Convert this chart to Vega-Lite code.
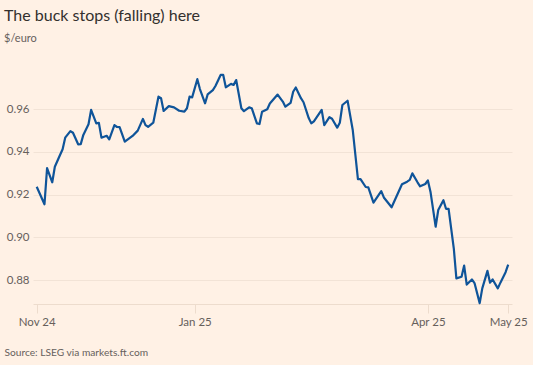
{
  "$schema": "https://vega.github.io/schema/vega-lite/v6.json",
  "autosize": {"type": "none"},
  "padding": {"left": 33, "top": 70, "right": 21, "bottom": 61},
  "width": 479,
  "height": 234,
  "background": "#fff1e5",
  "config": {
    "view": {"stroke": null},
    "font": "Lato",
    "axis": {"labelFont": "Lato", "titleFont": "Lato"}
  },
  "title": {
    "text": "The buck stops (falling) here",
    "subtitle": "$/euro",
    "anchor": "start",
    "frame": "group",
    "dx": -29,
    "offset": 26,
    "font": "Lato",
    "fontSize": 16,
    "fontWeight": "normal",
    "color": "#33302e",
    "subtitleFont": "Lato",
    "subtitleFontSize": 11,
    "subtitleColor": "#66605c",
    "subtitlePadding": 9
  },
  "data": {
    "values": [
      {"date": "2024-11-01", "rate": 0.9237},
      {"date": "2024-11-04", "rate": 0.9155},
      {"date": "2024-11-05", "rate": 0.9324},
      {"date": "2024-11-07", "rate": 0.9258},
      {"date": "2024-11-08", "rate": 0.9331},
      {"date": "2024-11-10", "rate": 0.9386},
      {"date": "2024-11-11", "rate": 0.9413},
      {"date": "2024-11-12", "rate": 0.9467},
      {"date": "2024-11-14", "rate": 0.9498},
      {"date": "2024-11-15", "rate": 0.9490},
      {"date": "2024-11-17", "rate": 0.9436},
      {"date": "2024-11-18", "rate": 0.9437},
      {"date": "2024-11-19", "rate": 0.9480},
      {"date": "2024-11-21", "rate": 0.9530},
      {"date": "2024-11-22", "rate": 0.9597},
      {"date": "2024-11-24", "rate": 0.9534},
      {"date": "2024-11-25", "rate": 0.9536},
      {"date": "2024-11-26", "rate": 0.9467},
      {"date": "2024-11-28", "rate": 0.9476},
      {"date": "2024-11-29", "rate": 0.9459},
      {"date": "2024-12-01", "rate": 0.9526},
      {"date": "2024-12-02", "rate": 0.9517},
      {"date": "2024-12-03", "rate": 0.9516},
      {"date": "2024-12-05", "rate": 0.9448},
      {"date": "2024-12-08", "rate": 0.9475},
      {"date": "2024-12-10", "rate": 0.9500},
      {"date": "2024-12-12", "rate": 0.9555},
      {"date": "2024-12-13", "rate": 0.9526},
      {"date": "2024-12-14", "rate": 0.9518},
      {"date": "2024-12-16", "rate": 0.9537},
      {"date": "2024-12-18", "rate": 0.9659},
      {"date": "2024-12-19", "rate": 0.9652},
      {"date": "2024-12-20", "rate": 0.9592},
      {"date": "2024-12-22", "rate": 0.9615},
      {"date": "2024-12-24", "rate": 0.9609},
      {"date": "2024-12-26", "rate": 0.9593},
      {"date": "2024-12-28", "rate": 0.9589},
      {"date": "2024-12-29", "rate": 0.9605},
      {"date": "2024-12-30", "rate": 0.9659},
      {"date": "2024-12-31", "rate": 0.9656},
      {"date": "2025-01-02", "rate": 0.9741},
      {"date": "2025-01-03", "rate": 0.9695},
      {"date": "2025-01-05", "rate": 0.9628},
      {"date": "2025-01-06", "rate": 0.9670},
      {"date": "2025-01-08", "rate": 0.9690},
      {"date": "2025-01-09", "rate": 0.9709},
      {"date": "2025-01-11", "rate": 0.9761},
      {"date": "2025-01-12", "rate": 0.9761},
      {"date": "2025-01-13", "rate": 0.9703},
      {"date": "2025-01-15", "rate": 0.9719},
      {"date": "2025-01-16", "rate": 0.9714},
      {"date": "2025-01-17", "rate": 0.9737},
      {"date": "2025-01-19", "rate": 0.9605},
      {"date": "2025-01-20", "rate": 0.9591},
      {"date": "2025-01-22", "rate": 0.9609},
      {"date": "2025-01-23", "rate": 0.9605},
      {"date": "2025-01-25", "rate": 0.9534},
      {"date": "2025-01-26", "rate": 0.9531},
      {"date": "2025-01-27", "rate": 0.9589},
      {"date": "2025-01-29", "rate": 0.9600},
      {"date": "2025-01-30", "rate": 0.9627},
      {"date": "2025-02-02", "rate": 0.9669},
      {"date": "2025-02-04", "rate": 0.9636},
      {"date": "2025-02-05", "rate": 0.9612},
      {"date": "2025-02-07", "rate": 0.9630},
      {"date": "2025-02-08", "rate": 0.9682},
      {"date": "2025-02-09", "rate": 0.9702},
      {"date": "2025-02-11", "rate": 0.9652},
      {"date": "2025-02-12", "rate": 0.9633},
      {"date": "2025-02-14", "rate": 0.9559},
      {"date": "2025-02-15", "rate": 0.9534},
      {"date": "2025-02-16", "rate": 0.9543},
      {"date": "2025-02-19", "rate": 0.9597},
      {"date": "2025-02-20", "rate": 0.9526},
      {"date": "2025-02-22", "rate": 0.9563},
      {"date": "2025-02-23", "rate": 0.9556},
      {"date": "2025-02-25", "rate": 0.9514},
      {"date": "2025-02-26", "rate": 0.9537},
      {"date": "2025-02-27", "rate": 0.9620},
      {"date": "2025-03-01", "rate": 0.9640},
      {"date": "2025-03-03", "rate": 0.9503},
      {"date": "2025-03-05", "rate": 0.9273},
      {"date": "2025-03-06", "rate": 0.9273},
      {"date": "2025-03-08", "rate": 0.9236},
      {"date": "2025-03-09", "rate": 0.9234},
      {"date": "2025-03-11", "rate": 0.9163},
      {"date": "2025-03-14", "rate": 0.9217},
      {"date": "2025-03-15", "rate": 0.9187},
      {"date": "2025-03-18", "rate": 0.9141},
      {"date": "2025-03-20", "rate": 0.9195},
      {"date": "2025-03-22", "rate": 0.9249},
      {"date": "2025-03-24", "rate": 0.9261},
      {"date": "2025-03-25", "rate": 0.9269},
      {"date": "2025-03-26", "rate": 0.9300},
      {"date": "2025-03-28", "rate": 0.9258},
      {"date": "2025-03-29", "rate": 0.9239},
      {"date": "2025-03-31", "rate": 0.9250},
      {"date": "2025-04-01", "rate": 0.9267},
      {"date": "2025-04-02", "rate": 0.9214},
      {"date": "2025-04-04", "rate": 0.9050},
      {"date": "2025-04-05", "rate": 0.9128},
      {"date": "2025-04-07", "rate": 0.9174},
      {"date": "2025-04-08", "rate": 0.9134},
      {"date": "2025-04-09", "rate": 0.9134},
      {"date": "2025-04-11", "rate": 0.8949},
      {"date": "2025-04-12", "rate": 0.8808},
      {"date": "2025-04-14", "rate": 0.8816},
      {"date": "2025-04-15", "rate": 0.8868},
      {"date": "2025-04-16", "rate": 0.8779},
      {"date": "2025-04-18", "rate": 0.8803},
      {"date": "2025-04-19", "rate": 0.8786},
      {"date": "2025-04-21", "rate": 0.8692},
      {"date": "2025-04-22", "rate": 0.8761},
      {"date": "2025-04-24", "rate": 0.8843},
      {"date": "2025-04-25", "rate": 0.8788},
      {"date": "2025-04-26", "rate": 0.8803},
      {"date": "2025-04-28", "rate": 0.8761},
      {"date": "2025-04-29", "rate": 0.8788},
      {"date": "2025-05-01", "rate": 0.8837},
      {"date": "2025-05-02", "rate": 0.8872}
    ]
  },
  "mark": {"type": "line", "color": "#0f5499", "strokeWidth": 2.2, "strokeJoin": "round", "clip": false},
  "encoding": {
    "x": {
      "field": "date",
      "type": "temporal",
      "scale": {
        "type": "utc",
        "domain": [
          {"year": 2024, "month": 10, "date": 30, "hours": 13, "minutes": 40, "utc": true},
          {"year": 2025, "month": 5, "date": 3, "hours": 11, "minutes": 20, "utc": true}
        ],
        "nice": false
      },
      "axis": {
        "values": [
          {"year": 2024, "month": 11, "date": 1, "utc": true},
          {"year": 2025, "month": 1, "date": 1, "utc": true},
          {"year": 2025, "month": 4, "date": 1, "utc": true},
          {"year": 2025, "month": 5, "date": 2, "utc": true}
        ],
        "format": "%b %y",
        "grid": false,
        "domain": true,
        "domainColor": "#eddccd",
        "domainWidth": 1,
        "ticks": true,
        "tickColor": "#eddccd",
        "tickSize": 9,
        "labelFontSize": 11.5,
        "labelColor": "#66605c",
        "labelPadding": 3,
        "labelFlush": false,
        "title": "Source: LSEG via markets.ft.com",
        "titleFontSize": 10.2,
        "titleFontWeight": "normal",
        "titleColor": "#66605c",
        "titleAnchor": "start",
        "titleAlign": "left",
        "titleBaseline": "alphabetic",
        "titleX": -29,
        "titleY": 51
      }
    },
    "y": {
      "field": "rate",
      "type": "quantitative",
      "scale": {"domain": [0.8688, 0.9784], "nice": false, "zero": false},
      "axis": {
        "values": [0.88, 0.9, 0.92, 0.94, 0.96],
        "format": ".2f",
        "grid": true,
        "gridColor": "#f2e3d6",
        "domain": false,
        "ticks": false,
        "labelFontSize": 11.5,
        "labelColor": "#66605c",
        "labelPadding": 4,
        "title": null
      }
    }
  }
}
